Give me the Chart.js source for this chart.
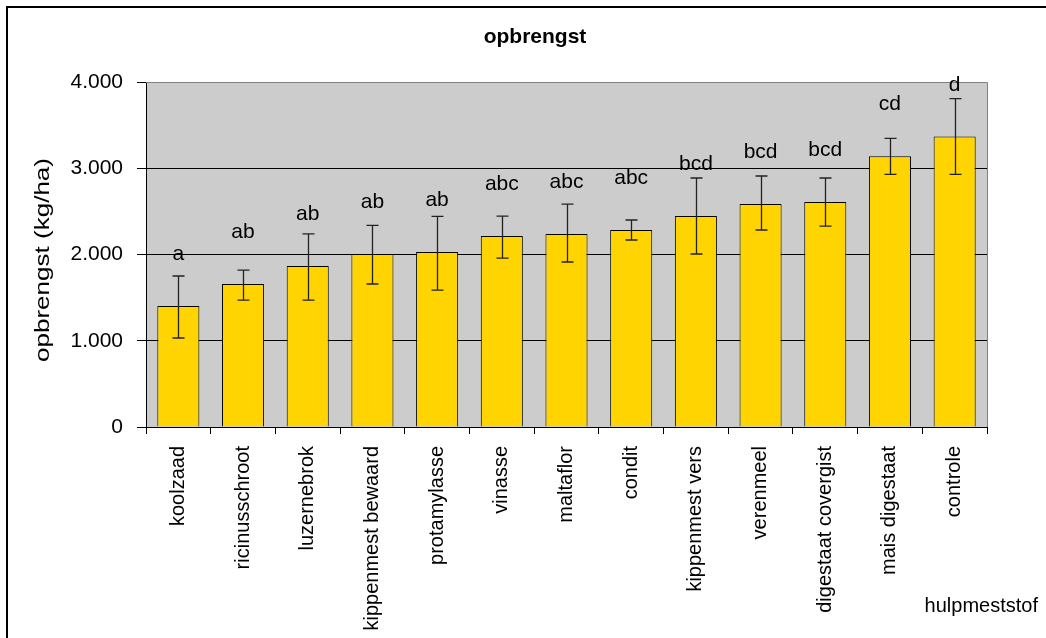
<!DOCTYPE html>
<html>
<head>
    <title>opbrengst</title>
    <script src="https://cdn.jsdelivr.net/npm/chart.js"></script>
    <style>
        body { margin: 0; background: #fff; }
    </style>
</head>
<body>
    <canvas id="yieldChart" width="1046" height="638"></canvas>

    <script>
        // data
        const categories = ['koolzaad', 'ricinusschroot', 'luzernebrok', 'kippenmest bewaard', 'protamylasse',
            'vinasse', 'maltaflor', 'condit', 'kippenmest vers', 'verenmeel', 'digestaat covergist',
            'mais digestaat', 'controle'];
        const yields = [1403, 1658, 1867, 2006, 2029, 2214, 2238, 2284, 2446, 2585, 2609, 3139, 3367];
        const errHigh = [1751, 1820, 2238, 2338, 2443, 2446, 2585, 2400, 2887, 2910, 2887, 3347, 3807];
        const errLow = [1032, 1472, 1472, 1658, 1588, 1959, 1913, 2168, 2006, 2284, 2330, 2930, 2930];
        const groups = ['a', 'ab', 'ab', 'ab', 'ab', 'abc', 'abc', 'abc', 'bcd', 'bcd', 'bcd', 'cd', 'd'];
        const yTickLabels = ['0', '1.000', '2.000', '3.000', '4.000'];

        const FONT = '"Liberation Sans", Arial, sans-serif';

        // background, frame, error bars, letters and titles
        const extras = {
            id: 'extras',
            beforeDraw(chart) {
                const { ctx, chartArea: a } = chart;
                ctx.save();
                ctx.fillStyle = '#fff';
                ctx.fillRect(0, 0, chart.width, chart.height);
                ctx.strokeStyle = '#000';
                ctx.lineWidth = 2;
                ctx.strokeRect(7, 7, chart.width + 20, chart.height + 20);
                ctx.fillStyle = '#cccccc';
                ctx.fillRect(a.left, a.top, a.right - a.left, a.bottom - a.top);
                ctx.restore();
            },
            afterDatasetsDraw(chart) {
                const { ctx, chartArea: a } = chart;
                const y = chart.scales.y;
                const meta = chart.getDatasetMeta(0);
                ctx.save();
                // grey frame on top and right
                ctx.strokeStyle = '#808080';
                ctx.lineWidth = 1;
                ctx.beginPath();
                ctx.moveTo(a.left, a.top + 0.5);
                ctx.lineTo(a.right + 0.5, a.top + 0.5);
                ctx.lineTo(a.right + 0.5, a.bottom);
                ctx.stroke();

                ctx.strokeStyle = '#222';
                ctx.lineWidth = 1.3;
                ctx.fillStyle = '#000';
                ctx.font = '21px ' + FONT;
                ctx.textAlign = 'center';
                ctx.textBaseline = 'alphabetic';
                meta.data.forEach((bar, i) => {
                    const x = Math.round(bar.x) + 0.5;
                    const hi = y.getPixelForValue(errHigh[i]);
                    const lo = y.getPixelForValue(errLow[i]);
                    ctx.beginPath();
                    ctx.moveTo(x, hi); ctx.lineTo(x, lo);
                    ctx.moveTo(x - 6, hi); ctx.lineTo(x + 6, hi);
                    ctx.moveTo(x - 6, lo); ctx.lineTo(x + 6, lo);
                    ctx.stroke();
                    ctx.fillText(groups[i], bar.x, y.getPixelForValue(yields[i]) - 46);
                });
                ctx.restore();
            },
            afterDraw(chart) {
                const { ctx, chartArea: a } = chart;
                ctx.save();
                ctx.fillStyle = '#000';
                ctx.textAlign = 'center';
                ctx.textBaseline = 'middle';
                ctx.font = 'bold 21px ' + FONT;
                ctx.fillText('opbrengst', 535, 37);

                // y axis title, a bit stretched along its length like the original
                ctx.font = '21px ' + FONT;
                const t = 'opbrengst (kg/ha)';
                const w = ctx.measureText(t).width;
                ctx.translate(a.left - 103, 260);
                ctx.rotate(-Math.PI / 2);
                ctx.scale(204 / w, 1);
                ctx.fillText(t, 0, 0);
                ctx.restore();

                ctx.save();
                ctx.fillStyle = '#000';
                ctx.font = '20px ' + FONT;
                ctx.textAlign = 'right';
                ctx.textBaseline = 'middle';
                ctx.fillText('hulpmeststof', a.right + 51, 606);
                ctx.restore();
            }
        };

        const chart = new Chart(document.getElementById('yieldChart'), {
            type: 'bar',
            data: {
                labels: categories,
                datasets: [{
                    label: 'opbrengst',
                    data: yields,
                    backgroundColor: '#ffd400',
                    borderColor: '#000',
                    borderWidth: 1,
                    barPercentage: 0.65,
                    categoryPercentage: 1
                }]
            },
            options: {
                responsive: false,
                animation: false,
                devicePixelRatio: 1,
                layout: { padding: { left: 10, right: 59, top: 82, bottom: 0 } },
                plugins: {
                    legend: { display: false },
                    tooltip: { enabled: false },
                    title: { display: false }
                },
                scales: {
                    x: {
                        grid: { offset: true, drawOnChartArea: false, tickLength: 7, color: '#000' },
                        border: { color: '#000', width: 1 },
                        ticks: {
                            color: '#000',
                            font: { family: FONT, size: 20 },
                            minRotation: 90,
                            maxRotation: 90,
                            padding: 12,
                            autoSkip: false
                        },
                        afterFit(scale) { scale.height = 211; }
                    },
                    y: {
                        min: 0,
                        max: 4000,
                        grid: {
                            color: ctx => ctx.tick && ctx.tick.value === 4000 ? '#808080' : '#000',
                            tickColor: '#000',
                            tickLength: 9
                        },
                        border: { color: '#000', width: 1 },
                        ticks: {
                            stepSize: 1000,
                            color: '#000',
                            font: { family: FONT, size: 21 },
                            padding: 14,
                            callback: (v, i) => yTickLabels[i]
                        },
                        afterFit(scale) { scale.width = 136; }
                    }
                }
            },
            plugins: [extras]
        });
    </script>
</body>
</html>
